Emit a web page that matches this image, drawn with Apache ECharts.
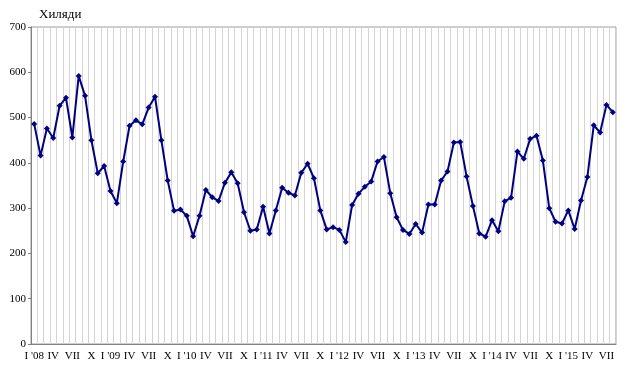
<!DOCTYPE html>
<html>
<head>
<meta charset="utf-8">
<script src="https://cdn.jsdelivr.net/npm/echarts@6/dist/echarts.min.js"></script>
<style>html,body{margin:0;padding:0;background:#fff}#c{width:630px;height:370px}</style>
</head>
<body>
<div id="c"></div>
<script>
var months = ["I '08","II","III","IV","V","VI","VII","VIII","IX","X","XI","XII",
"I '09","II","III","IV","V","VI","VII","VIII","IX","X","XI","XII",
"I '10","II","III","IV","V","VI","VII","VIII","IX","X","XI","XII",
"I '11","II","III","IV","V","VI","VII","VIII","IX","X","XI","XII",
"I '12","II","III","IV","V","VI","VII","VIII","IX","X","XI","XII",
"I '13","II","III","IV","V","VI","VII","VIII","IX","X","XI","XII",
"I '14","II","III","IV","V","VI","VII","VIII","IX","X","XI","XII",
"I '15","II","III","IV","V","VI","VII","VIII"];
var values = [486,416,476,455,526,544,456,592,548,450,377,393,
338,311,403,482,494,485,522,546,450,361,294,297,
283,238,283,340,324,316,356,379,355,291,250,253,
303,244,295,345,334,328,378,398,366,295,253,258,
252,225,307,332,347,359,403,413,333,280,252,243,
265,246,308,308,361,381,445,446,370,305,244,237,
273,249,315,323,425,409,453,460,405,300,270,266,
295,254,317,369,483,467,528,512];
var yTicks = {min:0, max:700, interval:100};
var unitLabel = "Хиляди";

var chart = echarts.init(document.getElementById('c'));
chart.setOption({
  animation:false,
  textStyle:{fontFamily:'"Liberation Serif", "Times New Roman", serif'},
  title:{text:unitLabel, left:34, top:3, textStyle:{fontFamily:'"Liberation Serif", serif', fontSize:13, fontWeight:'normal', color:'#000'}},
  grid:{left:31, right:14, top:27, bottom:26, show:true, borderColor:'#9a9a9a', borderWidth:1},
  xAxis:{type:'category', data:months, boundaryGap:true,
    axisLine:{lineStyle:{color:'#808080', width:1}},
    axisTick:{show:false},
    axisLabel:{interval:2, color:'#000', fontSize:11, fontFamily:'"Liberation Serif", serif', margin:7},
    splitLine:{show:true, interval:0, lineStyle:{color:'#d4d4d4', width:1}}},
  yAxis:{type:'value', min:yTicks.min, max:yTicks.max, interval:yTicks.interval,
    axisLine:{show:true, lineStyle:{color:'#808080', width:1}},
    axisTick:{show:true, length:3, lineStyle:{color:'#808080'}},
    axisLabel:{color:'#000', fontSize:11, fontFamily:'"Liberation Serif", serif', margin:5},
    splitLine:{show:false}},
  series:[{type:'line', data:values, symbol:'diamond', symbolSize:6, showAllSymbol:true,
    lineStyle:{color:'#000080', width:2}, itemStyle:{color:'#000080'}}]
});
</script>
</body>
</html>
